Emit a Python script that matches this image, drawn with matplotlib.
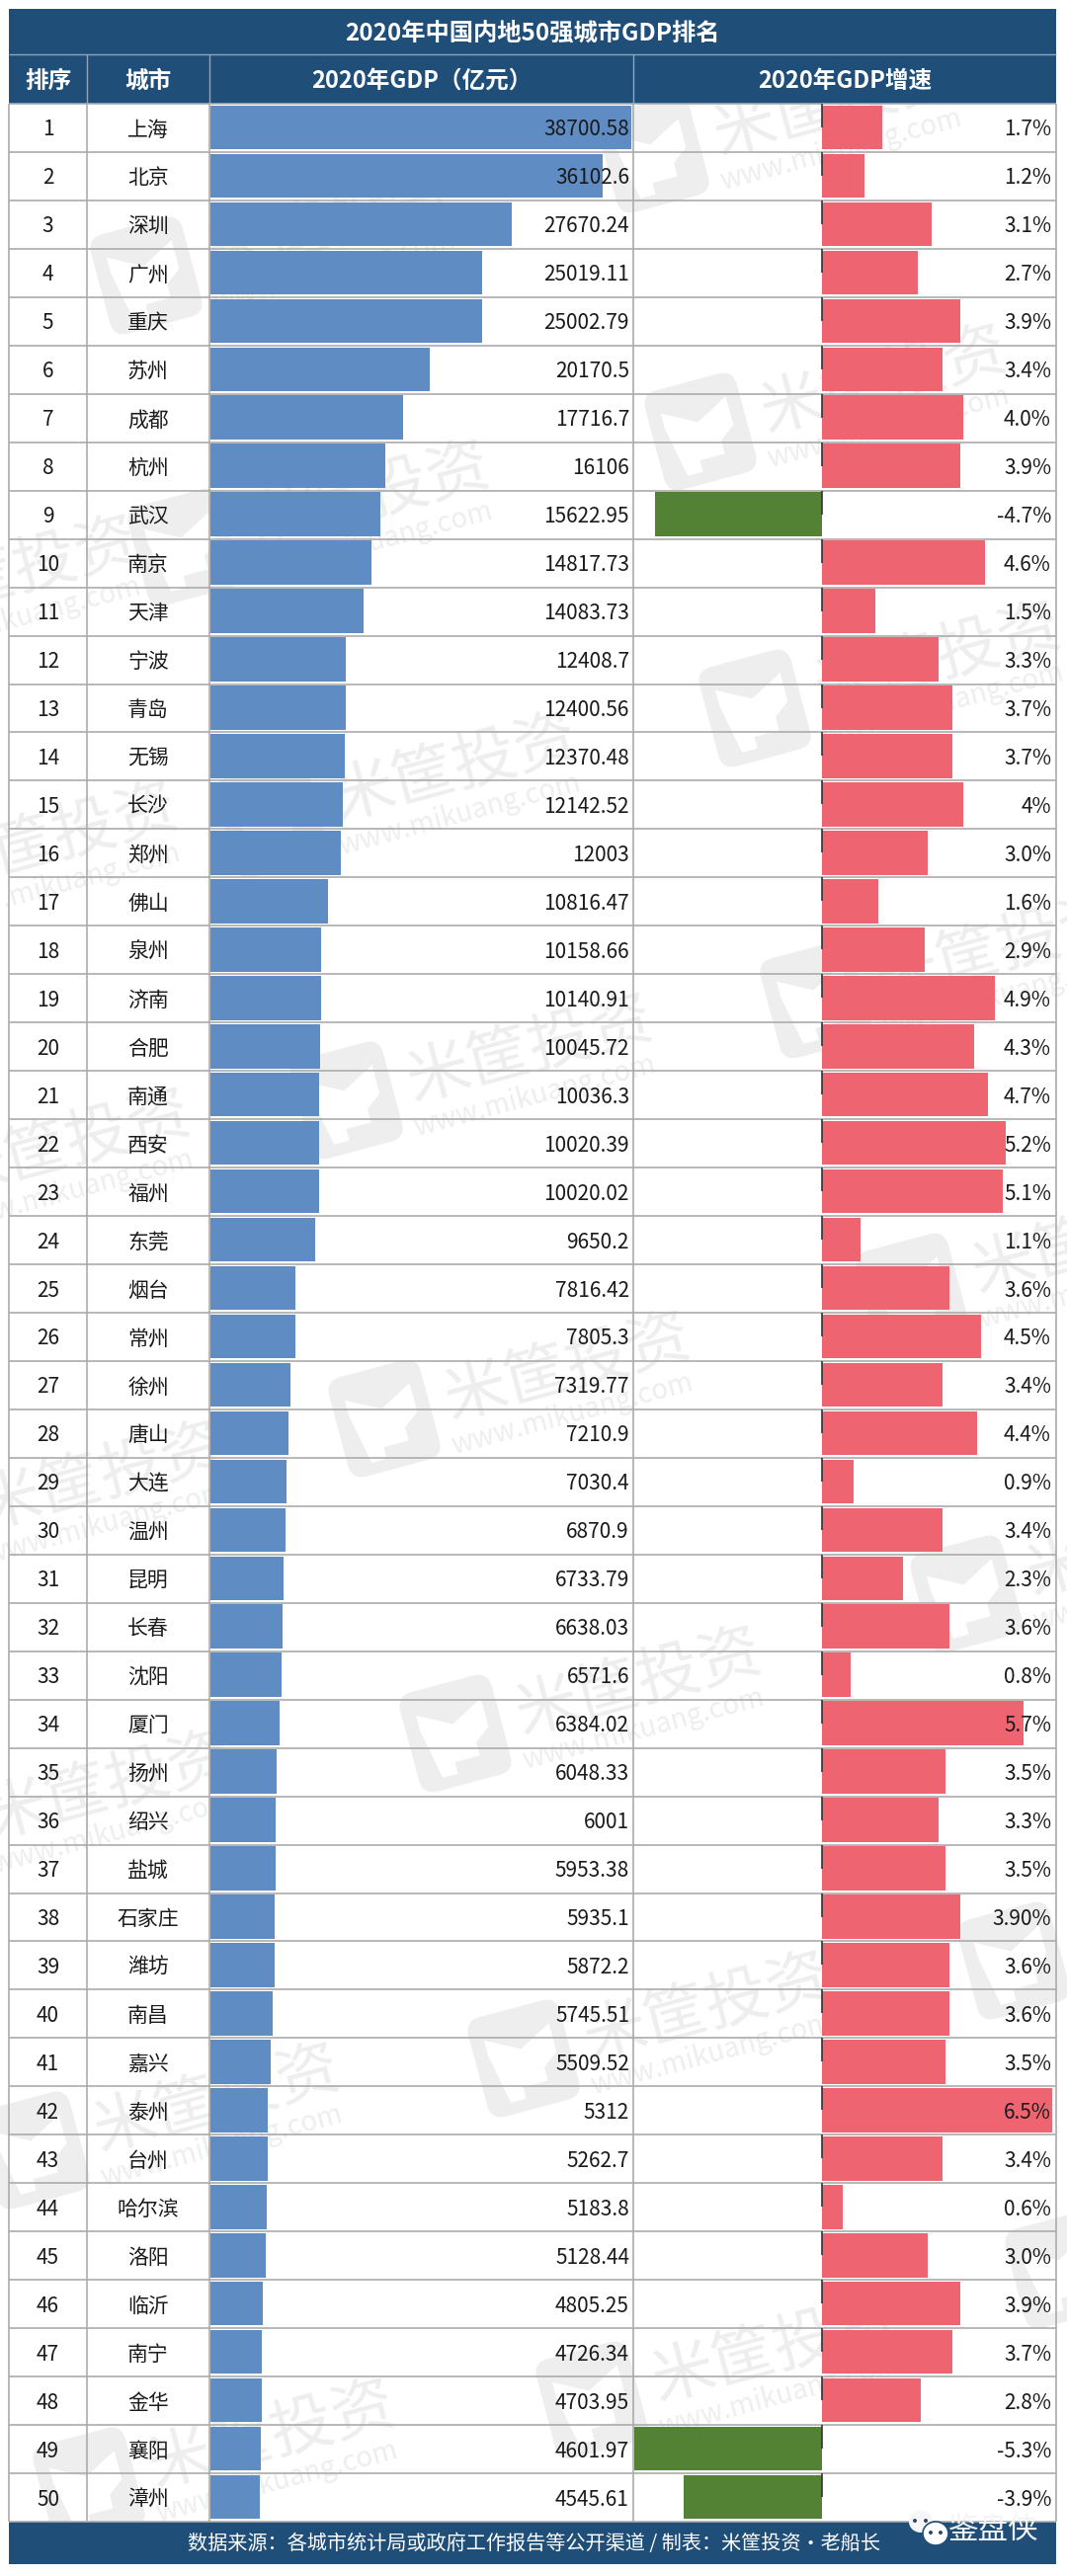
#!/usr/bin/env python3
# 2020 GDP top-50 table with in-cell bars
import matplotlib
matplotlib.use("Agg")
import matplotlib.pyplot as plt
from matplotlib.patches import Ellipse, FancyBboxPatch, Polygon
from matplotlib.transforms import Affine2D

plt.rcParams["font.family"] = ["Noto Sans CJK SC", "DejaVu Sans"]

W, H = 1080, 2608

cities = ["上海", "北京", "深圳", "广州", "重庆", "苏州", "成都", "杭州", "武汉", "南京",
          "天津", "宁波", "青岛", "无锡", "长沙", "郑州", "佛山", "泉州", "济南", "合肥",
          "南通", "西安", "福州", "东莞", "烟台", "常州", "徐州", "唐山", "大连", "温州",
          "昆明", "长春", "沈阳", "厦门", "扬州", "绍兴", "盐城", "石家庄", "潍坊", "南昌",
          "嘉兴", "泰州", "台州", "哈尔滨", "洛阳", "临沂", "南宁", "金华", "襄阳", "漳州"]
gdp = [38700.58, 36102.6, 27670.24, 25019.11, 25002.79, 20170.5, 17716.7, 16106, 15622.95, 14817.73,
       14083.73, 12408.7, 12400.56, 12370.48, 12142.52, 12003, 10816.47, 10158.66, 10140.91, 10045.72,
       10036.3, 10020.39, 10020.02, 9650.2, 7816.42, 7805.3, 7319.77, 7210.9, 7030.4, 6870.9,
       6733.79, 6638.03, 6571.6, 6384.02, 6048.33, 6001, 5953.38, 5935.1, 5872.2, 5745.51,
       5509.52, 5312, 5262.7, 5183.8, 5128.44, 4805.25, 4726.34, 4703.95, 4601.97, 4545.61]
growth = [1.7, 1.2, 3.1, 2.7, 3.9, 3.4, 4.0, 3.9, -4.7, 4.6,
          1.5, 3.3, 3.7, 3.7, 4.0, 3.0, 1.6, 2.9, 4.9, 4.3,
          4.7, 5.2, 5.1, 1.1, 3.6, 4.5, 3.4, 4.4, 0.9, 3.4,
          2.3, 3.6, 0.8, 5.7, 3.5, 3.3, 3.5, 3.9, 3.6, 3.6,
          3.5, 6.5, 3.4, 0.6, 3.0, 3.9, 3.7, 2.8, -5.3, -3.9]
growth_labels = ["1.7%", "1.2%", "3.1%", "2.7%", "3.9%", "3.4%", "4.0%", "3.9%", "-4.7%", "4.6%",
                 "1.5%", "3.3%", "3.7%", "3.7%", "4%", "3.0%", "1.6%", "2.9%", "4.9%", "4.3%",
                 "4.7%", "5.2%", "5.1%", "1.1%", "3.6%", "4.5%", "3.4%", "4.4%", "0.9%", "3.4%",
                 "2.3%", "3.6%", "0.8%", "5.7%", "3.5%", "3.3%", "3.5%", "3.90%", "3.6%", "3.6%",
                 "3.5%", "6.5%", "3.4%", "0.6%", "3.0%", "3.9%", "3.7%", "2.8%", "-5.3%", "-3.9%"]
columns = ["排序", "城市", "2020年GDP（亿元）", "2020年GDP增速"]
title = "2020年中国内地50强城市GDP排名"
footer = "数据来源：各城市统计局或政府工作报告等公开渠道 / 制表：米筐投资·老船长"

NAVY = "#1F4E79"
BLUE = "#608CC4"
PINK = "#EE6470"
GREEN = "#548235"
GRID = "#ABABAB"
INK = "#1A1A1A"
MARK = "#EEEEEE"

# table frame in pixels (y down)
LEFT, RIGHT = 9, 1069
COL = [LEFT, 88, 212, 641, RIGHT]
TITLE_TOP, HEAD_TOP, ROW_TOP, FOOT_TOP, FOOT_BOT = 9, 55, 105, 2553, 2596
ROW_H = (FOOT_TOP - ROW_TOP) / len(cities)
TEXT_DY = 2  # CJK fonts sit a bit high with va=center

fig = plt.figure(figsize=(W / 100, H / 100), dpi=100, facecolor="white")


def pixel_axes(z):
    ax = fig.add_axes([0, 0, 1, 1], zorder=z)
    ax.set_xlim(0, W)
    ax.set_ylim(H, 0)
    ax.axis("off")
    ax.patch.set_alpha(0)
    return ax


bg = pixel_axes(1)
top = pixel_axes(5)

# watermark logo centres, the text hangs off to the right of each
marks = [(661, 156), (148, 279), (709, 437), (186, 554), (764, 717), (275, 829),
         (826, 1012), (351, 1114), (923, 1308), (389, 1436), (978, 1614), (461, 1755),
         (1026, 1985), (530, 2084), (34, 2177), (599, 2430), (90, 2517), (1074, 2298),
         (-130, 900), (-170, 630), (-117, 1210), (-83, 1547), (-76, 1860)]
for x, y in marks:
    rot = Affine2D().rotate_deg_around(x, y, -15) + bg.transData
    bg.add_patch(FancyBboxPatch((x - 38, y - 42), 76, 84, boxstyle="round,pad=10,rounding_size=16",
                                fc=MARK, ec="none", transform=rot, zorder=0))
    bg.add_patch(Polygon([(x - 34, y - 28), (x, y - 10), (x + 34, y - 28), (x + 34, y + 2),
                          (x + 18, y + 14), (x + 18, y + 28), (x - 8, y + 28), (x - 8, y + 40),
                          (x - 24, y + 40), (x - 34, y - 12)],
                         fc="white", ec="none", transform=rot, zorder=0))
    if x + 186 < W + 140:
        bg.text(x + 186, y - 50, "米筐投资", fontsize=46, color=MARK, rotation=15, ha="center",
                va="center", fontweight="medium", zorder=0)
        bg.text(x + 190, y - 4, "www.mikuang.com", fontsize=20, color=MARK, rotation=15,
                ha="center", va="center", zorder=0)

# header and footer bands
for t, b in [(TITLE_TOP, HEAD_TOP), (HEAD_TOP, ROW_TOP), (FOOT_TOP, FOOT_BOT)]:
    bg.fill_between([LEFT, RIGHT], t, b, color=NAVY, lw=0, zorder=1)
bg.hlines(HEAD_TOP, LEFT, RIGHT, color="#8FA6BC", lw=1, zorder=2)
bg.vlines(COL[1:4], HEAD_TOP, ROW_TOP, color="#8FA6BC", lw=1, zorder=2)

# grid
for i in range(len(cities) + 1):
    bg.hlines(ROW_TOP + i * ROW_H, LEFT, RIGHT, color=GRID, lw=1.2, zorder=2)
bg.vlines(COL, ROW_TOP, FOOT_TOP, color=GRID, lw=1.2, zorder=2)

top.text(539, (TITLE_TOP + HEAD_TOP) / 2 + TEXT_DY, title, color="white", fontsize=17.5,
         fontweight="bold", ha="center", va="center")
for k, label in enumerate(columns):
    top.text((COL[k] + COL[k + 1]) / 2, (HEAD_TOP + ROW_TOP) / 2 + TEXT_DY, label, color="white",
             fontsize=17, fontweight="bold", ha="center", va="center")
top.text(540, 2575, footer, color="white", fontsize=14.5, ha="center", va="center")

# wechat badge
top.add_patch(Ellipse((932, 2553), 24, 22, fc="#F4F6F8", ec="none"))
top.add_patch(Ellipse((947, 2565), 26, 24, fc="white", ec=NAVY, lw=1.2))
for ex, ey in [(926, 2552), (937, 2552), (942, 2564), (952, 2564)]:
    top.add_patch(Ellipse((ex, ey), 4, 4, fc="#33475B", ec="none"))
top.text(1006, 2561, "鉴盘侠", color="#F2F4F6", fontsize=22, ha="center", va="center")


def cell_axes(x0, x1):
    ax = fig.add_axes([x0 / W, 1 - FOOT_TOP / H, (x1 - x0) / W, (FOOT_TOP - ROW_TOP) / H], zorder=3)
    ax.patch.set_alpha(0)
    ax.axis("off")
    ax.set_ylim(len(cities), 0)
    return ax


rows = list(range(len(cities)))
centres = [r + 0.49 for r in rows]

# GDP bars
ax1 = cell_axes(213, 639)
ax1.set_xlim(0, max(gdp))
ax1.barh(centres, gdp, height=0.91, color=BLUE, lw=0)

# growth bars, baseline sits at x=832 px
ax2 = cell_axes(642, 1069)
ax2.set_xlim(-5.3, 6.62)
ax2.barh(centres, growth, height=0.91, color=[PINK if g > 0 else GREEN for g in growth], lw=0)
ax2.vlines([0] * len(rows), rows, centres, color="#333333", lw=1.2)

for r, (city, g, lab) in enumerate(zip(cities, gdp, growth_labels)):
    y = ROW_TOP + (r + 0.5) * ROW_H + TEXT_DY
    top.text((COL[0] + COL[1]) / 2, y, str(r + 1), color=INK, fontsize=15, ha="center", va="center")
    top.text((COL[1] + COL[2]) / 2, y, city, color=INK, fontsize=15, ha="center", va="center")
    top.text(637, y, str(g), color=INK, fontsize=15, ha="right", va="center")
    top.text(1064, y, lab, color=INK, fontsize=15, ha="right", va="center")

fig.savefig("out.png", dpi=100)
